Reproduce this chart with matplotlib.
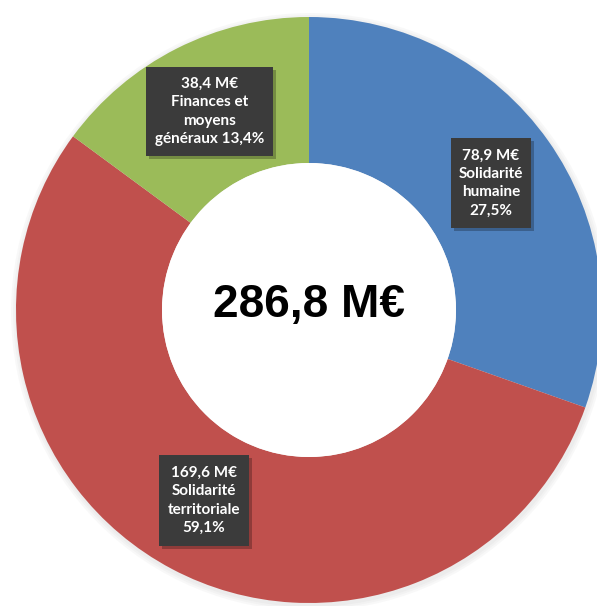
import matplotlib.pyplot as plt
from matplotlib.patches import Rectangle, Circle

# Données du graphique (budget, M€)
categories = ["Solidarité humaine", "Solidarité territoriale", "Finances et moyens généraux"]
amounts = ["78,9 M€", "169,6 M€", "38,4 M€"]
percents = ["27,5%", "59,1%", "13,4%"]
# parts des secteurs telles qu'elles sont dessinées sur l'image (%)
shares = [30.4, 54.7, 14.9]
colors = ["#4F81BD", "#C0504D", "#9BBB59"]
total_label = "286,8 M€"

label_texts = [
    amounts[0] + "\nSolidarité\nhumaine\n" + percents[0],
    amounts[1] + "\nSolidarité\nterritoriale\n" + percents[1],
    amounts[2] + "\nFinances et\nmoyens\ngénéraux " + percents[2],
]
# boîtes des étiquettes en pixels (x0, y0 haut, largeur, hauteur)
label_boxes = [(451, 138, 80, 90), (159, 455, 90, 91), (146, 67, 127, 89)]

W, H = 597, 606
fig = plt.figure(figsize=(W / 100, H / 100), dpi=100)
ax = fig.add_axes([0, 0, 1, 1])


def py(y):
    """Convertit un y en pixels (depuis le haut) en coordonnée de données."""
    return H - y


cx, cy = 309, py(310)
r_out, r_in = 293, 147

# ombre légère autour de l'anneau
for i in range(3):
    ax.add_patch(Circle((cx + 1, cy - 2), r_out + 2 + 2 * i, color="#888888", alpha=0.05, lw=0, zorder=0))

ax.pie(shares, colors=colors, startangle=90, counterclock=False, radius=r_out,
       center=(cx, cy), wedgeprops=dict(width=r_out - r_in, edgecolor="none", zorder=1))
ax.add_patch(Circle((cx, cy), r_in, color="white", lw=0, zorder=2))

for (x0, y0, w, h), txt in zip(label_boxes, label_texts):
    ax.add_patch(Rectangle((x0 + 3, py(y0 + h) - 3), w, h, color="#000000", alpha=0.25, lw=0, zorder=3))
    ax.add_patch(Rectangle((x0, py(y0 + h)), w, h, color="#3b3b3b", lw=0, zorder=4))
    ax.text(x0 + w / 2, py(y0 + h / 2), txt, ha="center", va="center", color="white",
            fontsize=11, fontweight="bold", family="Lato", linespacing=1.4, zorder=5)

ax.text(cx, py(305), total_label, ha="center", va="center", fontsize=33,
        fontweight="bold", family="Liberation Sans", color="black", zorder=5)

ax.set_xlim(0, W)
ax.set_ylim(0, H)
ax.set_aspect("auto")
ax.axis("off")
fig.savefig("out.png", dpi=100)
